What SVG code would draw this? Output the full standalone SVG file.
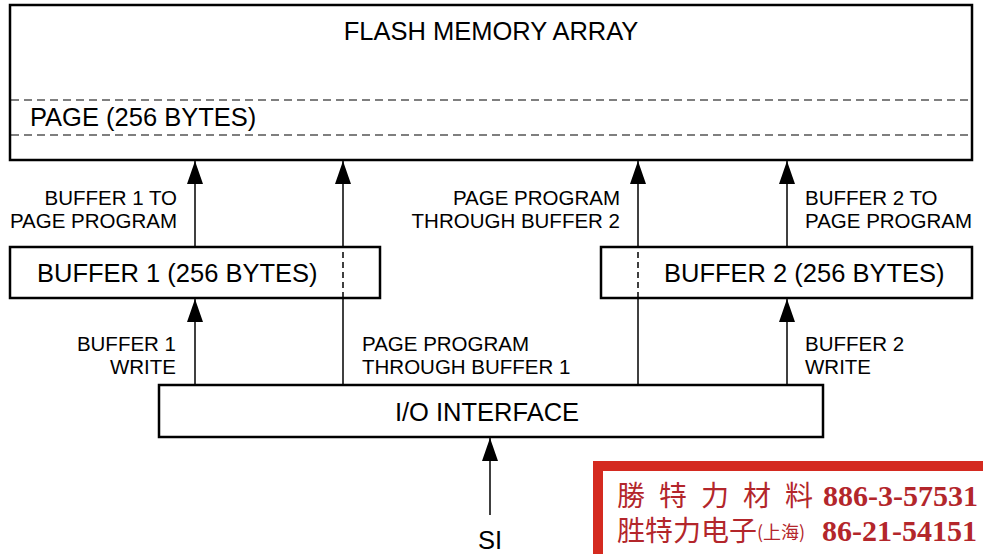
<svg xmlns="http://www.w3.org/2000/svg" width="983" height="554" viewBox="0 0 983 554">
<style>
.box{fill:#fff;stroke:#000;stroke-width:2.5}
.dash{stroke:#000;stroke-width:1.2;stroke-dasharray:8 5;fill:none}
.big{font-family:"Liberation Sans",Arial,sans-serif;font-size:25.5px;fill:#000}
.lbl{font-family:"Liberation Sans",Arial,sans-serif;font-size:20.5px;fill:#000}
.conn{stroke:#000;stroke-width:1.5;fill:none}
.cn{font-family:"Noto Sans CJK TC","Noto Sans CJK SC",serif;fill:#b3262b}
.num{font-family:"Liberation Serif",serif;font-weight:bold;fill:#b3262b}
</style>
<defs>
<marker id="ah" viewBox="0 0 23 16" refX="23" refY="8" markerWidth="23" markerHeight="16" markerUnits="userSpaceOnUse" orient="auto">
<path d="M0,0 L23,8 L0,16 Z" fill="#000"/>
</marker>
</defs>
<rect width="983" height="554" fill="#fff"/>
<g id="flash">
<rect class="box" x="10" y="5" width="962" height="155"/>
<line class="dash" x1="11" y1="100" x2="971" y2="100"/>
<line class="dash" x1="11" y1="135" x2="971" y2="135"/>
<text class="big" x="491" y="40" text-anchor="middle">FLASH MEMORY ARRAY</text>
<text class="big" x="30" y="126">PAGE (256 BYTES)</text>
</g>
<g id="buffer1">
<rect class="box" x="10" y="247" width="370" height="51"/>
<text class="big" x="37" y="282">BUFFER 1 (256 BYTES)</text>
</g>
<g id="buffer2">
<rect class="box" x="601" y="247" width="371" height="51"/>
<text class="big" x="664" y="282">BUFFER 2 (256 BYTES)</text>
</g>
<g id="io">
<rect class="box" x="159" y="385" width="664" height="52"/>
<text class="big" x="487" y="421" text-anchor="middle">I/O INTERFACE</text>
</g>
<g id="si">
<text class="big" x="490" y="549" text-anchor="middle">SI</text>
</g>
<g id="connectors">
<line class="conn" x1="195" y1="247" x2="195" y2="161" marker-end="url(#ah)"/>
<line class="conn" x1="787" y1="247" x2="787" y2="161" marker-end="url(#ah)"/>
<line class="conn" x1="195" y1="384" x2="195" y2="299" marker-end="url(#ah)"/>
<line class="conn" x1="787" y1="384" x2="787" y2="299" marker-end="url(#ah)"/>
<line class="conn" x1="343" y1="384" x2="343" y2="299"/>
<line class="conn" x1="343" y1="298" x2="343" y2="248" stroke-dasharray="6 4"/>
<line class="conn" x1="343" y1="247" x2="343" y2="161" marker-end="url(#ah)"/>
<line class="conn" x1="638" y1="384" x2="638" y2="299"/>
<line class="conn" x1="638" y1="298" x2="638" y2="248" stroke-dasharray="6 4"/>
<line class="conn" x1="638" y1="247" x2="638" y2="161" marker-end="url(#ah)"/>
<line class="conn" x1="490" y1="515" x2="490" y2="438" marker-end="url(#ah)"/>
</g>
<g id="labels">
<text class="lbl" x="177" y="205" text-anchor="end">BUFFER 1 TO</text>
<text class="lbl" x="177" y="228" text-anchor="end">PAGE PROGRAM</text>
<text class="lbl" x="620" y="205" text-anchor="end">PAGE PROGRAM</text>
<text class="lbl" x="620" y="228" text-anchor="end">THROUGH BUFFER 2</text>
<text class="lbl" x="805" y="205">BUFFER 2 TO</text>
<text class="lbl" x="805" y="228">PAGE PROGRAM</text>
<text class="lbl" x="176" y="351" text-anchor="end">BUFFER 1</text>
<text class="lbl" x="176" y="374" text-anchor="end">WRITE</text>
<text class="lbl" x="362" y="351">PAGE PROGRAM</text>
<text class="lbl" x="362" y="374">THROUGH BUFFER 1</text>
<text class="lbl" x="805" y="351">BUFFER 2</text>
<text class="lbl" x="805" y="374">WRITE</text>
</g>
<g id="banner">
<rect x="598" y="466" width="400" height="100" fill="#fff" stroke="#d42a20" stroke-width="10"/>
<text class="cn" font-size="28" x="617" y="506" letter-spacing="14">勝特力材料</text>
<text class="num" font-size="30" x="823" y="506">886-3-57531</text>
<text class="cn" font-size="28" x="617" y="541">胜特力电子<tspan font-size="18" dy="-2">(上海)</tspan></text>
<text class="num" font-size="30" x="822" y="541">86-21-54151</text>
</g>
</svg>
